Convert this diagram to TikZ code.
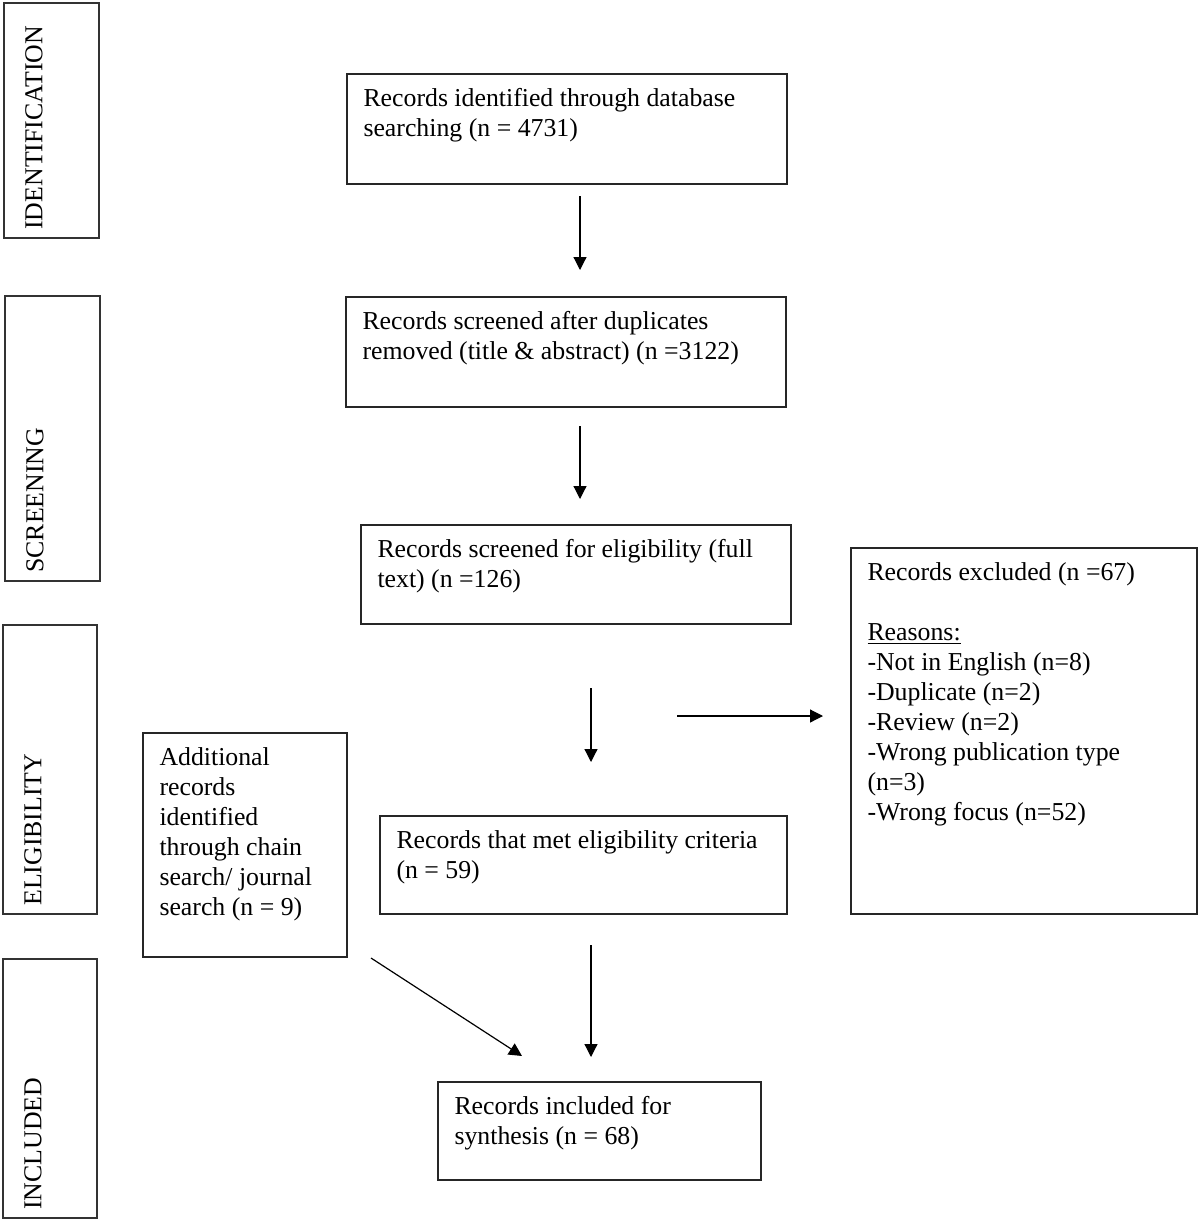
\documentclass[tikz,border=0pt]{standalone}
\usepackage{fontspec}
\setmainfont{Liberation Serif}
\usetikzlibrary{arrows.meta}
\newcommand\fbx[3]{\parbox[t][#2][t]{#1}{\raggedright\rule{0pt}{16.3pt}#3}}
\tikzset{
  flowbox/.style={draw=black!85, line width=0.7pt, anchor=north west, inner xsep=8.25pt, inner ysep=0pt, outer sep=0pt,
    font=\fontsize{12.9}{15}\selectfont},
  sidebox/.style={draw=black!80, line width=0.7pt, anchor=north west, inner sep=0pt, outer sep=0pt},
  sidelabel/.style={rotate=90, anchor=north west, inner sep=0pt, font=\fontsize{12.9}{15}\selectfont},
  arr/.style={line width=0.6pt, -{Triangle[length=6.5pt,width=6.5pt]}}
}
\begin{document}
\begin{tikzpicture}[x=0.5pt,y=-0.5pt]
\useasboundingbox (0,0) rectangle (1200,1221);
% phase boxes
\node[sidebox, minimum width=47.5pt, minimum height=117.5pt] (sid) at (4,3) {};
\node[sidelabel] (lid) at (25,230) {IDENTIFICATION};
\node[sidebox, minimum width=47.5pt, minimum height=142.5pt] (ssc) at (5,296) {};
\node[sidelabel] (lsc) at (26,573) {SCREENING};
\node[sidebox, minimum width=47pt, minimum height=144.5pt] (sel) at (3,625) {};
\node[sidelabel] (lel) at (24,906) {ELIGIBILITY};
\node[sidebox, minimum width=47pt, minimum height=129.5pt] (sin) at (3,959) {};
\node[sidelabel] (lin) at (24,1210) {INCLUDED};
% flow boxes
\node[flowbox] (ident) at (347,74) {\fbx{203.5pt}{55pt}{Records identified through database\\searching (n = 4731)}};
\node[flowbox] (screen) at (346,297) {\fbx{203.5pt}{55pt}{Records screened after duplicates\\removed (title \& abstract) (n =3122)}};
\node[flowbox] (full) at (361,525) {\fbx{198.5pt}{49.5pt}{Records screened for eligibility (full\\text) (n =126)}};
\node[flowbox] (excl) at (851,548) {\fbx{156.5pt}{183pt}{Records excluded (n =67)\\[15pt]\underline{Reasons:}\\-Not in English (n=8)\\-Duplicate (n=2)\\-Review (n=2)\\-Wrong publication type\\(n=3)\\-Wrong focus (n=52)}};
\node[flowbox] (met) at (380,816) {\fbx{187pt}{49pt}{Records that met eligibility criteria\\(n = 59)}};
\node[flowbox] (add) at (143,733) {\fbx{85.5pt}{112pt}{Additional\\records\\identified\\through chain\\search/ journal\\search (n = 9)}};
\node[flowbox] (incl) at (438,1082) {\fbx{145pt}{49pt}{Records included for\\synthesis (n = 68)}};
% arrow end points
\coordinate (a1s) at (580,196); \coordinate (a1e) at (580,270);
\coordinate (a2s) at (580,426); \coordinate (a2e) at (580,499);
\coordinate (a3s) at (591,688); \coordinate (a3e) at (591,762);
\coordinate (a4s) at (677,716); \coordinate (a4e) at (823,716);
\coordinate (a5s) at (591,945); \coordinate (a5e) at (591,1057);
\coordinate (a6s) at (371,958); \coordinate (a6e) at (522,1056);
\draw[arr] (a1s) -- (a1e);
\draw[arr] (a2s) -- (a2e);
\draw[arr] (a3s) -- (a3e);
\draw[arr] (a4s) -- (a4e);
\draw[arr] (a5s) -- (a5e);
\draw[arr] (a6s) -- (a6e);
\end{tikzpicture}
\end{document}
